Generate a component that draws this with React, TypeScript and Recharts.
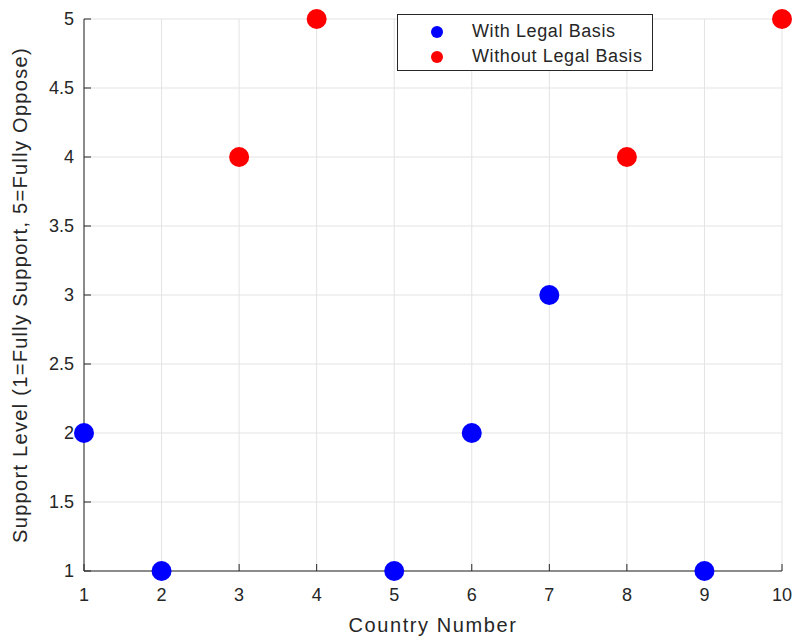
import React from 'react';
import {
  ScatterChart,
  Scatter,
  XAxis,
  YAxis,
  CartesianGrid,
} from 'recharts';

const withLegal = [
  { country: 1, support: 2 },
  { country: 2, support: 1 },
  { country: 5, support: 1 },
  { country: 6, support: 2 },
  { country: 7, support: 3 },
  { country: 9, support: 1 },
];

const withoutLegal = [
  { country: 3, support: 4 },
  { country: 4, support: 5 },
  { country: 8, support: 4 },
  { country: 10, support: 5 },
];

const xTicks = [1, 2, 3, 4, 5, 6, 7, 8, 9, 10];
const yTicks = [1, 1.5, 2, 2.5, 3, 3.5, 4, 4.5, 5];

const font = '"Liberation Sans", Arial, sans-serif';
const axisColor = '#262626';

const Dot = (color: string) => (props: any) => (
  <circle cx={props.cx} cy={props.cy} r={10} fill={color} />
);

const legendItems = [
  { name: 'With Legal Basis', color: '#0000ff' },
  { name: 'Without Legal Basis', color: '#ff0000' },
];

const LegendBox = () => (
  <div
    style={{
      position: 'absolute',
      left: 397,
      top: 14,
      width: 256,
      height: 57,
      border: '1px solid #262626',
      background: '#fff',
      fontFamily: font,
      fontSize: 18,
      letterSpacing: 0.6,
      color: axisColor,
      boxSizing: 'border-box',
      paddingTop: 4,
    }}
  >
    {legendItems.map((item) => (
      <div key={item.name} style={{ display: 'flex', alignItems: 'center', height: 25 }}>
        <span
          style={{
            display: 'inline-block',
            width: 12,
            height: 12,
            borderRadius: 6,
            background: item.color,
            marginLeft: 33,
            marginRight: 29,
          }}
        />
        <span>{item.name}</span>
      </div>
    ))}
  </div>
);

const App: React.FC = () => {
  return (
    <div style={{ position: 'absolute', left: 0, top: 0, width: 794, height: 636, background: '#fff' }}>
      <ScatterChart
        width={794}
        height={636}
        margin={{ top: 19, right: 12, left: 0, bottom: 0 }}
      >
        <CartesianGrid stroke="#e3e3e3" />
        <XAxis
          type="number"
          dataKey="country"
          domain={[1, 10]}
          ticks={xTicks}
          height={65}
          stroke={axisColor}
          tickSize={-7}
          tickMargin={24}
          tick={{ fill: axisColor, fontFamily: font, fontSize: 18 }}
          label={{
            value: 'Country Number',
            position: 'insideBottom',
            offset: 4,
            fill: axisColor,
            fontFamily: font,
            fontSize: 20,
            letterSpacing: 1.6,
          }}
        />
        <YAxis
          type="number"
          dataKey="support"
          domain={[1, 5]}
          ticks={yTicks}
          width={84}
          stroke={axisColor}
          tickSize={-7}
          tickMargin={17}
          tick={{ fill: axisColor, fontFamily: font, fontSize: 18 }}
          label={{
            value: 'Support Level (1=Fully Support, 5=Fully Oppose)',
            angle: -90,
            position: 'insideLeft',
            offset: 20,
            style: { textAnchor: 'middle' },
            fill: axisColor,
            fontFamily: font,
            fontSize: 20,
            letterSpacing: 1.3,
          }}
        />
        <Scatter
          name="With Legal Basis"
          data={withLegal}
          fill="#0000ff"
          shape={Dot('#0000ff')}
          isAnimationActive={false}
        />
        <Scatter
          name="Without Legal Basis"
          data={withoutLegal}
          fill="#ff0000"
          shape={Dot('#ff0000')}
          isAnimationActive={false}
        />
      </ScatterChart>
      <LegendBox />
    </div>
  );
};

export default App;
